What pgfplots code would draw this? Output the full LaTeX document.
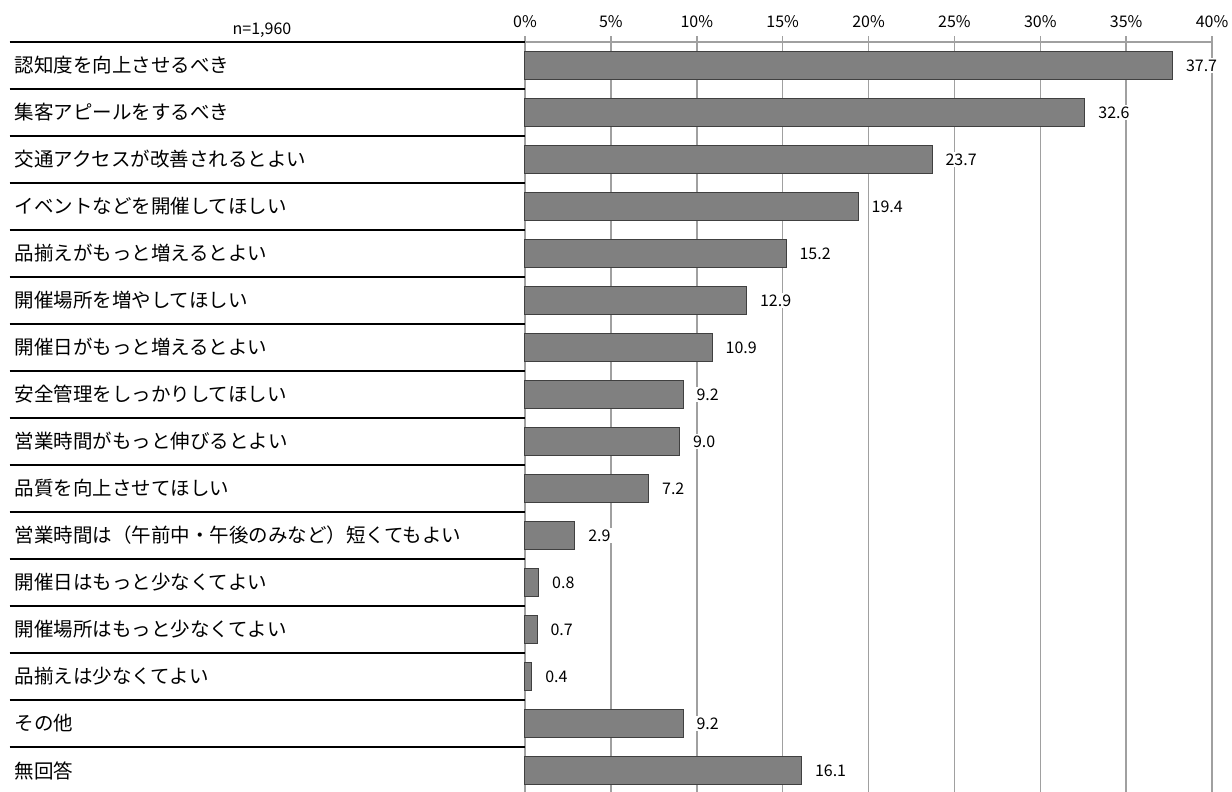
\documentclass[border=0pt]{standalone}
\usepackage{pgfplots}
\pgfplotsset{compat=1.18}
\usepackage{pgfplotstable}
\usepackage{fontspec}
\setmainfont{Noto Sans CJK JP}
\definecolor{barfill}{HTML}{808080}
\definecolor{barline}{HTML}{404040}
\definecolor{gridc}{HTML}{A0A0A0}
\pgfplotstableread{
idx val
1 37.7
2 32.6
3 23.7
4 19.4
5 15.2
6 12.9
7 10.9
8 9.2
9 9.0
10 7.2
11 2.9
12 0.8
13 0.7
14 0.4
15 9.2
16 16.1
}\datatable
\begin{document}
\begin{tikzpicture}
\path[use as bounding box] (0,0) rectangle (1232pt,-792pt);
\node[font=\fontsize{16}{19}\selectfont] at (262pt,-30pt) {n=1,960};
\begin{axis}[
  at={(525pt,-42pt)}, anchor=north west,
  scale only axis, width=687pt, height=752pt,
  xmin=0, xmax=40, ymin=0.5, ymax=16.5, y dir=reverse,
  xbar, bar width=28pt, bar shift=0pt,
  axis x line*=top, axis y line*=left,
  x axis line style={gridc, line width=1.5pt},
  y axis line style={gridc, line width=1.5pt},
  clip=false,
  xtick={0,5,...,40},
  tick align=outside, major tick length=6pt,
  x tick style={gridc, line width=1.5pt},
  y tick style={draw=none},
  xmajorgrids, major grid style={gridc, line width=1.5pt},
  /pgf/number format/assume math mode=true,
  xticklabel={\pgfmathprintnumber{\tick}\%},
  xticklabel style={font=\fontsize{16}{19}\selectfont, yshift=5pt},
  ytick={1,...,16},
  yticklabels={認知度を向上させるべき,集客アピールをするべき,交通アクセスが改善されるとよい,イベントなどを開催してほしい,品揃えがもっと増えるとよい,開催場所を増やしてほしい,開催日がもっと増えるとよい,安全管理をしっかりしてほしい,営業時間がもっと伸びるとよい,品質を向上させてほしい,営業時間は（午前中・午後のみなど）短くてもよい,開催日はもっと少なくてよい,開催場所はもっと少なくてよい,品揃えは少なくてよい,その他,無回答},
  yticklabel style={anchor=west, xshift=-508pt, font=\fontsize{19.5}{22}\selectfont},
  point meta=x,
  nodes near coords={\pgfmathprintnumber[fixed,fixed zerofill,precision=1]{\pgfplotspointmeta}},
  nodes near coords style={anchor=west, xshift=11pt, fill=white, inner sep=2pt, font=\fontsize{16}{19}\selectfont, /pgf/number format/assume math mode=true},
]
\addplot[fill=barfill, draw=barline, line width=1pt] table[x=val, y=idx] {\datatable};
\pgfplotsinvokeforeach{0,...,15}{
  \draw[black, line width=1.4pt] (axis cs:-30,#1+0.5) -- (axis cs:0,#1+0.5);
}
\end{axis}
\end{tikzpicture}
\end{document}
